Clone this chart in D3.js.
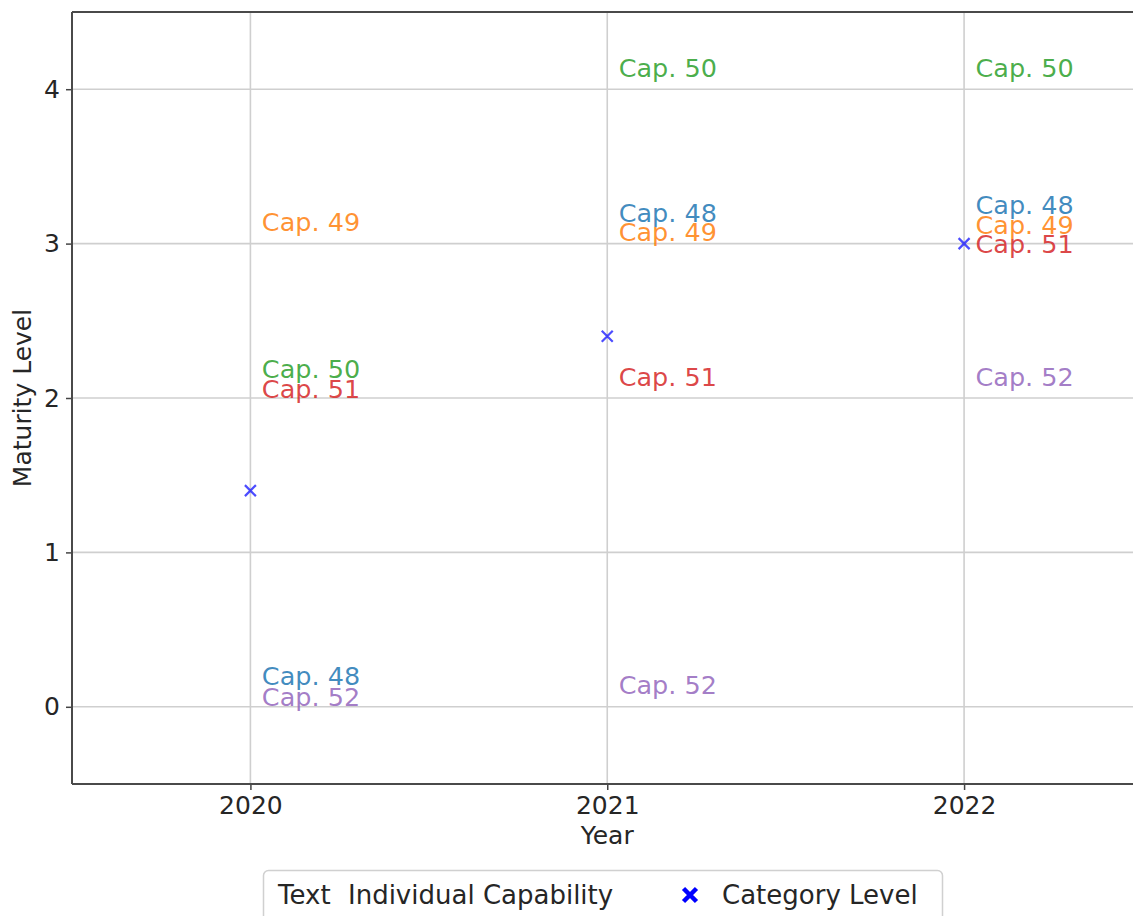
<!DOCTYPE html>
<html>
<head>
<meta charset="utf-8">
<script src="https://cdn.jsdelivr.net/npm/d3@7"></script>
<style>
  html, body { margin: 0; padding: 0; background: #fff; }
  svg { display: block; font-family: "DejaVu Sans", sans-serif; }
</style>
</head>
<body>
<svg id="chart" width="1133" height="916"></svg>
<script>
// ---- data ----
const years = [2020, 2021, 2022];
const capNames = ["Cap. 48", "Cap. 49", "Cap. 50", "Cap. 51", "Cap. 52"];
const capColors = ["#1f77b4", "#ff7f0e", "#2ca02c", "#d62728", "#9467bd"];
// maturity level of each capability per year
const cap48 = [0, 3, 3];
const cap49 = [3, 3, 3];
const cap50 = [2, 4, 4];
const cap51 = [2, 2, 3];
const cap52 = [0, 0, 2];
// label jitter (vertical offset of each text label)
const jit48 = [0.14, 0.14, 0.19];
const jit49 = [0.08, 0.02, 0.06];
const jit50 = [0.13, 0.08, 0.08];
const jit51 = [0.00, 0.08, -0.06];
const jit52 = [0.005, 0.08, 0.08];
// category level per year
const categoryLevel = [1.4, 2.4, 3.0];
const yTicks = [0, 1, 2, 3, 4];
const xTicks = [2020, 2021, 2022];

const capLevels = [cap48, cap49, cap50, cap51, cap52];
const capJitter = [jit48, jit49, jit50, jit51, jit52];

(function () {
// ---- layout ----
const svg = d3.select("#chart");
const pL = 72, pT = 12, pB = 784, pR = 1142.5;
const x = d3.scaleLinear().domain([2019.5, 2022.5]).range([pL, pR]);
const y = d3.scaleLinear().domain([-0.5, 4.5]).range([pB, pT]);
const fs = 25;
const textCol = "#262626";

// grid
const grid = svg.append("g");
grid.selectAll("line.gy").data(yTicks).join("line")
  .attr("x1", pL).attr("x2", 1133)
  .attr("y1", d => y(d)).attr("y2", d => y(d))
  .attr("stroke", "#cfcfcf").attr("stroke-width", 1.6);
grid.selectAll("line.gx").data(xTicks).join("line")
  .attr("y1", pT).attr("y2", pB)
  .attr("x1", d => x(d)).attr("x2", d => x(d))
  .attr("stroke", "#cfcfcf").attr("stroke-width", 1.6);

// axes
const xAxis = d3.axisBottom(x).tickValues(xTicks).tickFormat(d3.format("d")).tickSizeOuter(0).tickSize(6).tickPadding(6);
const yAxis = d3.axisLeft(y).tickValues(yTicks).tickFormat(d3.format("d")).tickSizeOuter(0).tickSize(6).tickPadding(6);
const gx = svg.append("g").attr("transform", `translate(0,${pB})`).call(xAxis);
const gy = svg.append("g").attr("transform", `translate(${pL},0)`).call(yAxis);
[gx, gy].forEach(g => {
  g.select(".domain").remove();
  g.selectAll(".tick line").attr("stroke", "#444").attr("stroke-width", 1.5);
  g.selectAll(".tick text").attr("fill", textCol).style("font-size", fs + "px").style("font-family", "DejaVu Sans");
});

// spines
svg.append("line").attr("x1", pL).attr("x2", pL).attr("y1", pT).attr("y2", pB)
  .attr("stroke", "#4a4a4a").attr("stroke-width", 2);
svg.append("line").attr("x1", pL).attr("x2", 1133).attr("y1", pB).attr("y2", pB)
  .attr("stroke", "#4a4a4a").attr("stroke-width", 2);
svg.append("line").attr("x1", pL).attr("x2", 1133).attr("y1", pT).attr("y2", pT)
  .attr("stroke", "#4a4a4a").attr("stroke-width", 2);

// axis labels
svg.append("text").attr("x", (pL + pR) / 2).attr("y", 844).attr("text-anchor", "middle")
  .attr("fill", textCol).style("font-size", fs + "px").text("Year");
svg.append("text").attr("transform", `translate(31,${(pT + pB) / 2}) rotate(-90)`)
  .attr("text-anchor", "middle").attr("fill", textCol).style("font-size", fs + "px").text("Maturity Level");

// capability text labels
const labels = [];
capNames.forEach((name, i) => {
  years.forEach((yr, j) => {
    labels.push({ name, color: capColors[i], year: yr, level: capLevels[i][j] + capJitter[i][j] });
  });
});
svg.append("g").selectAll("text").data(labels).join("text")
  .attr("x", d => x(d.year + 0.032))
  .attr("y", d => y(d.level))
  .attr("fill", d => d.color)
  .attr("fill-opacity", 0.85)
  .style("font-size", "25.5px")
  .text(d => d.name);

// category level markers (x)
const ms = 5.5;
const mk = svg.append("g");
categoryLevel.forEach((v, j) => {
  const cx = x(years[j]), cy = y(v);
  mk.append("path")
    .attr("d", `M${cx - ms},${cy - ms}L${cx + ms},${cy + ms}M${cx - ms},${cy + ms}L${cx + ms},${cy - ms}`)
    .attr("stroke", "#0000ff").attr("stroke-opacity", 0.7).attr("stroke-width", 2.2);
});

// legend
const lfs = "26px";
const lg = svg.append("g");
lg.append("rect").attr("x", 263.5).attr("y", 870.5).attr("width", 679).attr("height", 70).attr("rx", 5)
  .attr("fill", "#fff").attr("stroke", "#d0d0d0").attr("stroke-width", 1.5);
lg.append("text").attr("x", 278).attr("y", 904).attr("fill", textCol).style("font-size", lfs).text("Text");
lg.append("text").attr("x", 348).attr("y", 904).attr("fill", textCol).style("font-size", lfs).text("Individual Capability");
const lx = 690, ly = 895, ls = 6.5;
lg.append("path")
  .attr("d", `M${lx - ls},${ly - ls}L${lx + ls},${ly + ls}M${lx - ls},${ly + ls}L${lx + ls},${ly - ls}`)
  .attr("stroke", "#0000ff").attr("stroke-width", 4.5);
lg.append("text").attr("x", 722).attr("y", 904).attr("fill", textCol).style("font-size", lfs).text("Category Level");
})();
</script>
</body>
</html>
